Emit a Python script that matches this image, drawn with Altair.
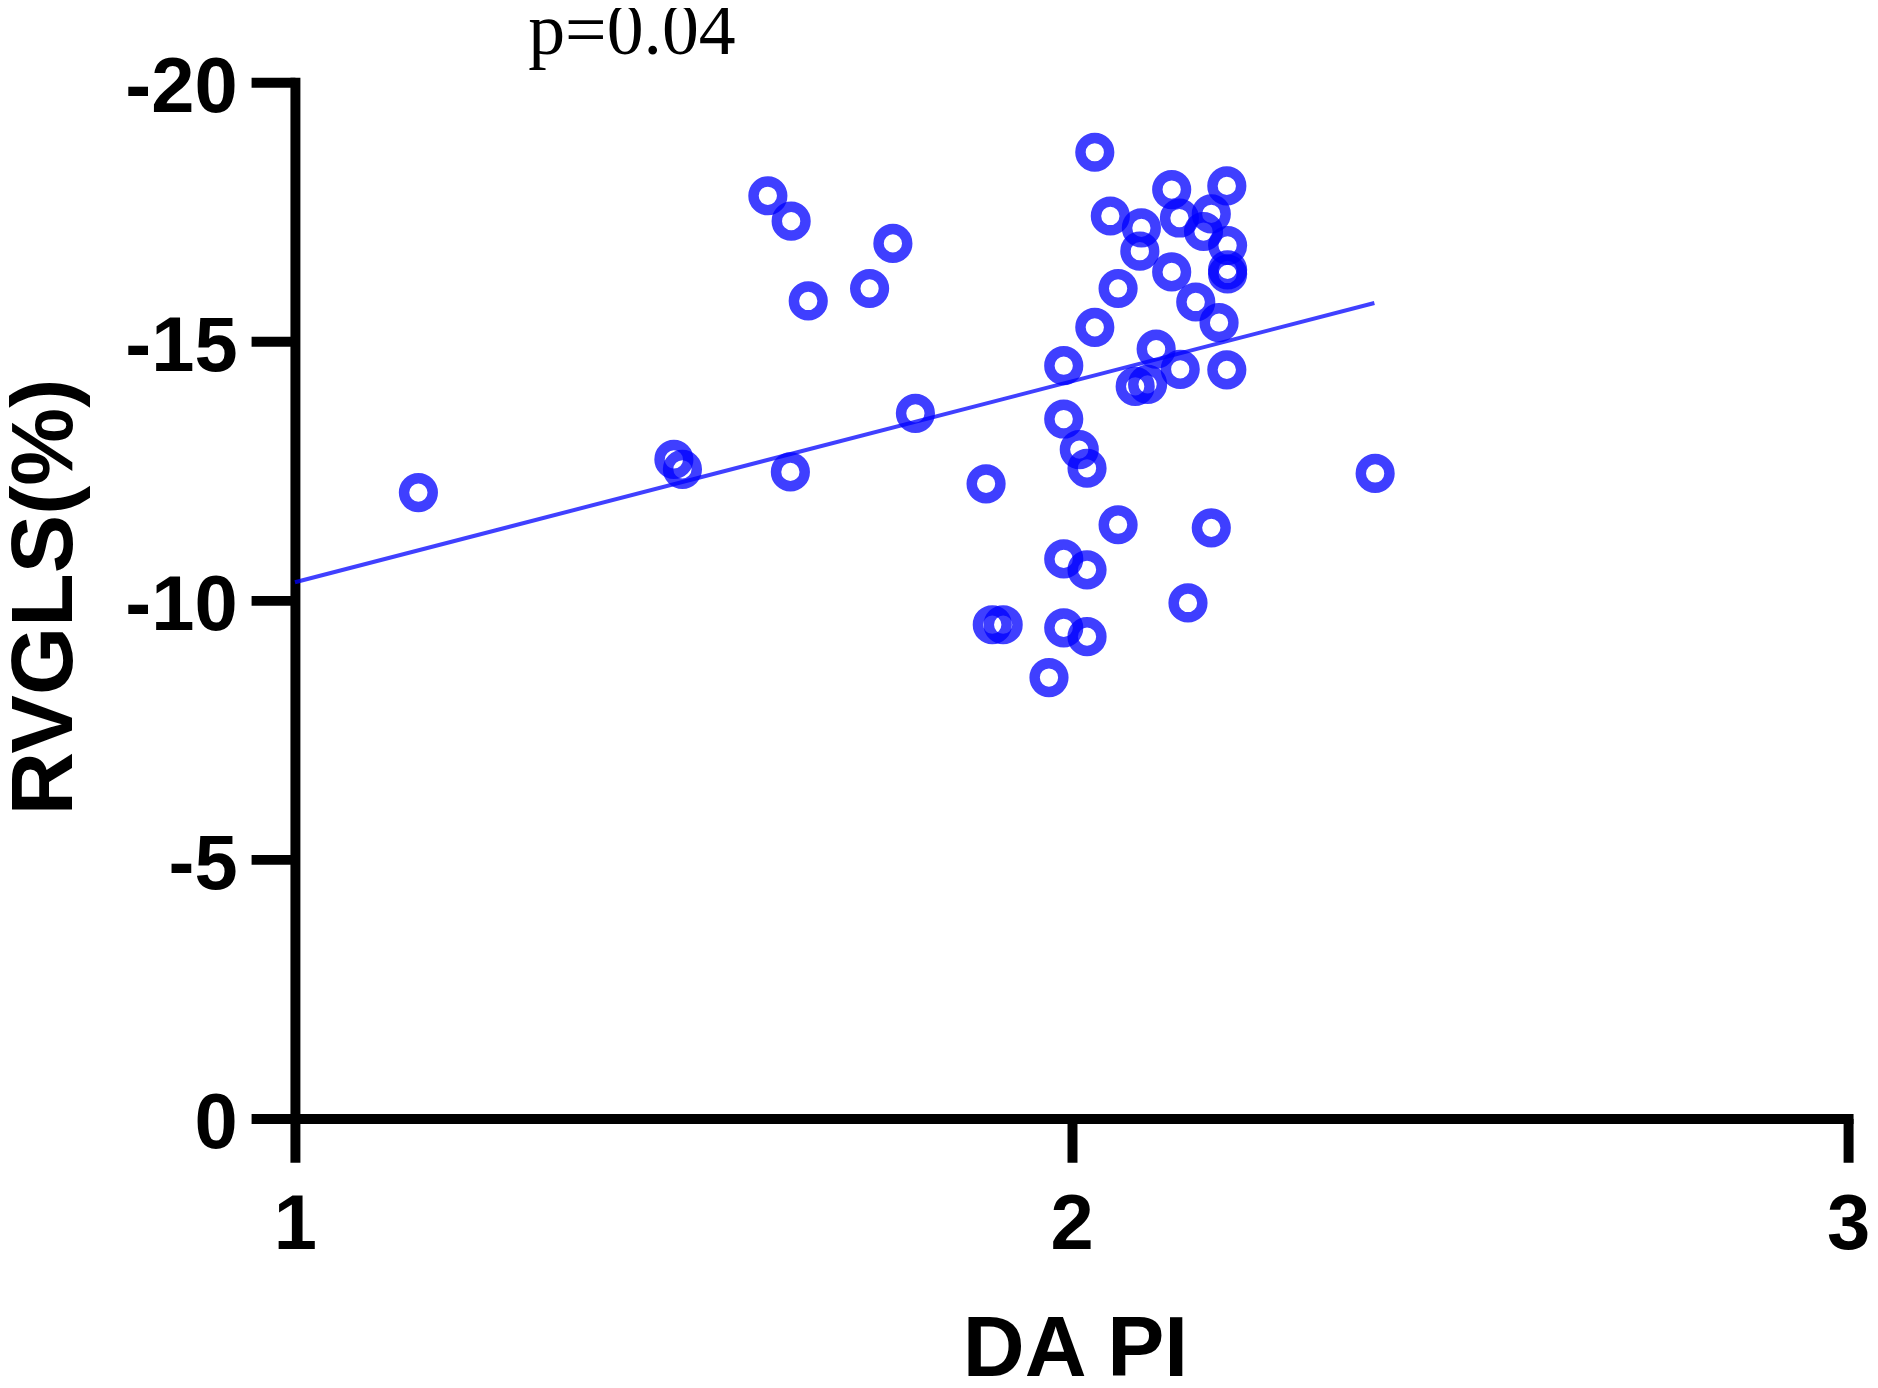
import altair as alt
import pandas as pd

# --- data ---
da_pi = [1.159, 1.488, 1.499, 1.638, 1.609, 1.639, 1.661, 1.770, 1.740, 1.799,
         1.890, 1.898, 1.912, 1.971, 1.990, 1.990, 1.990, 1.990, 2.010, 2.020,
         2.020, 2.020, 2.030, 2.030, 2.050, 2.060, 2.060, 2.090, 2.088, 2.082,
         2.098, 2.109, 2.129, 2.129, 2.139, 2.140, 2.150, 2.160, 2.170, 2.180,
         2.180, 2.190, 2.200, 2.201, 2.201, 2.201, 2.200, 2.391]
rvgls = [-12.08, -12.72, -12.53, -12.48, -17.81, -17.32, -15.78, -16.89, -16.02, -13.61,
         -12.25, -9.53, -9.53, -8.51, -14.53, -13.50, -10.80, -9.47, -12.91, -12.55,
         -10.59, -9.30, -18.65, -15.27, -17.42, -16.02, -11.46, -17.19, -16.74, -14.13,
         -14.17, -14.85, -17.93, -16.34, -17.38, -14.46, -9.95, -15.76, -17.12, -17.46,
         -11.40, -15.36, -18.00, -16.85, -16.30, -16.38, -14.45, -12.45]

fit_x = [1.0, 2.39]
fit_y = [-10.35, -15.74]

p_text = ["p=0.04"]
p_x = [1.434]
p_y = [-20.55]

x_ticks = [1, 2, 3]
y_ticks = [-20, -15, -10, -5, 0]

pts = pd.DataFrame({"x": da_pi, "y": rvgls})
fit = pd.DataFrame({"x": fit_x, "y": fit_y})
ann = pd.DataFrame({"x": p_x, "y": p_y, "t": p_text})

BLUE = "#0000FF"

xscale = alt.Scale(domain=[1, 3], nice=False, zero=False)
yscale = alt.Scale(domain=[-20, 0], nice=False, reverse=True)

xaxis = alt.Axis(
    values=x_ticks, title="DA PI", grid=False, tickCount=3,
    labelExpr="'' + round(datum.value)",
    domainWidth=10, domainColor="black", domainCap="square",
    tickWidth=10, tickSize=44, tickColor="black",
    labelFont="Liberation Sans", labelFontWeight="bold", labelFontSize=78,
    labelColor="black", labelPadding=25, labelFlush=False, labelOverlap=False,
    titleFont="Liberation Sans", titleFontWeight="bold", titleFontSize=86,
    titleColor="black", titleBaseline="alphabetic", titleX=783, titleY=258,
)
yaxis = alt.Axis(
    values=y_ticks, title="RVGLS(%)", grid=False, tickCount=5,
    domainWidth=10, domainColor="black", domainCap="square",
    tickWidth=10, tickSize=44, tickColor="black",
    labelFont="Liberation Sans", labelFontWeight="bold", labelFontSize=78,
    labelColor="black", labelPadding=14, labelOffset=6, labelFlush=False,
    labelOverlap=False,
    labelExpr="datum.value < 0 ? '-' + abs(datum.value) : '0'",
    titleFont="Liberation Sans", titleFontWeight="bold", titleFontSize=88,
    titleColor="black", titleBaseline="alphabetic", titleAngle=270,
    titleX=-224, titleY=516,
)

points = alt.Chart(pts).mark_point(
    shape="circle", filled=False, size=830, strokeWidth=10.5,
    color=BLUE, opacity=0.75
).encode(
    x=alt.X("x:Q", scale=xscale, axis=xaxis),
    y=alt.Y("y:Q", scale=yscale, axis=yaxis),
)

line = alt.Chart(fit).mark_line(color=BLUE, strokeWidth=4, opacity=0.75).encode(
    x=alt.X("x:Q", scale=xscale),
    y=alt.Y("y:Q", scale=yscale),
)

label = alt.Chart(ann).mark_text(
    font="Liberation Serif", fontSize=74, color="black",
    align="center", baseline="alphabetic"
).encode(
    x=alt.X("x:Q", scale=xscale),
    y=alt.Y("y:Q", scale=yscale),
    text="t:N",
)

chart = alt.layer(line, points, label).properties(
    width=1559, height=1040,
    autosize=alt.AutoSizeParams(type="none"),
    padding={"left": 288, "top": 72, "right": 22, "bottom": 265},
).configure_view(stroke=None)

chart.save("out.html", embed_options={"renderer": "svg", "actions": False})
